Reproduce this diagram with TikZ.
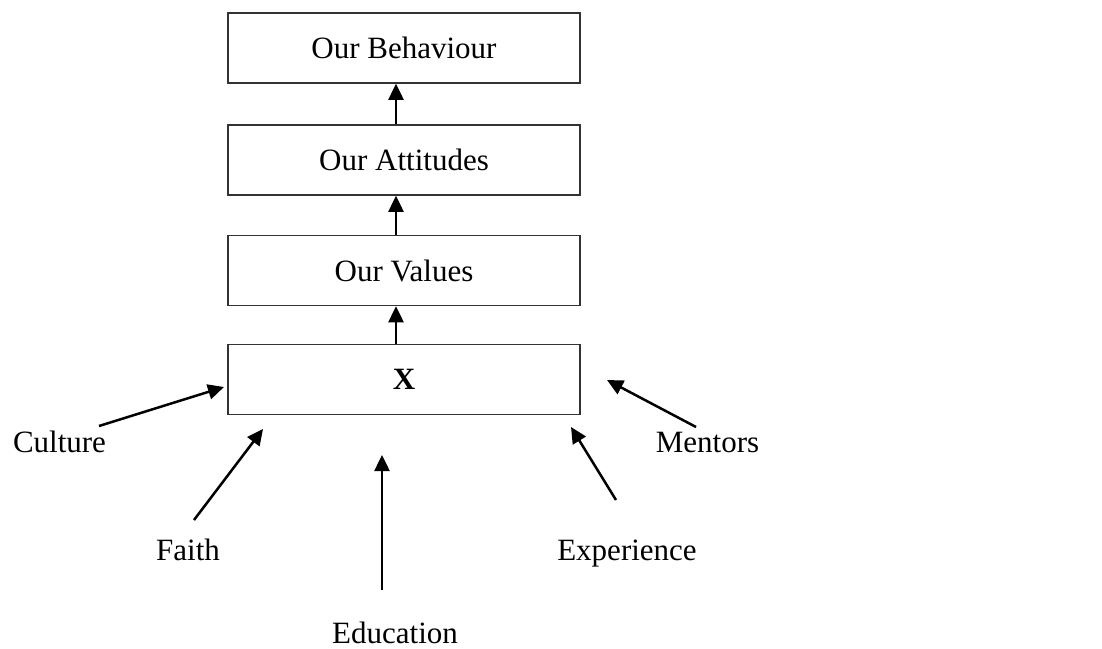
\documentclass[tikz,border=0pt]{standalone}
\usepackage{fontspec}
\setmainfont{Liberation Serif}
\usetikzlibrary{arrows.meta,positioning}

\tikzset{
  levelbox/.style={draw=black!80,line width=1.5pt,minimum width=352pt,minimum height=70pt,inner sep=0pt},
  srclabel/.style={anchor=base,inner sep=0pt},
  upflow/.style={line width=2.5pt,-{Triangle[length=16pt,width=15pt]}}
}

\begin{document}
\begin{tikzpicture}[x=1pt,y=-1pt,font=\fontsize{31}{37}\selectfont]
  \useasboundingbox (0,0) rectangle (1102,648);
  \pgfmathsetmacro\boxx{404}
  \pgfmathsetmacro\aoff{-8}   % vertical arrows sit a bit left of centre

% the four levels
  \node[levelbox] (behaviour) at (\boxx,48)    {Our Behaviour};
  \node[levelbox] (attitudes) at (\boxx,160)   {Our Attitudes};
  \node[levelbox] (values)    at (\boxx,270.5) {Our Values};
  \node[levelbox] (xbox)      at (\boxx,379.5) {\textbf{X}};

  \draw[upflow] ([xshift=\aoff]attitudes.north) -- ([xshift=\aoff]behaviour.south);
  \draw[upflow] ([xshift=\aoff]values.north)    -- ([xshift=\aoff]attitudes.south);
  \draw[upflow] ([xshift=\aoff]xbox.north)      -- ([xshift=\aoff]values.south);

% influences on X
  \node[srclabel] (culture)    at (59.5,452) {Culture};
  \node[srclabel] (faith)      at (188,560)  {Faith};
  \node[srclabel] (education)  at (395,643)  {Education};
  \node[srclabel] (experience) at (627,560)  {Experience};
  \node[srclabel] (mentors)    at (707.5,452) {Mentors};

  \coordinate (culture-t)    at (99,426);
  \coordinate (faith-t)      at (194,520);
  \coordinate (education-t)  at (382,590);
  \coordinate (experience-t) at (616,500);
  \coordinate (mentors-t)    at (696,427);

  \coordinate (culture-h)    at (224,387);
  \coordinate (faith-h)      at (263,429);
  \coordinate (education-h)  at (382,455);
  \coordinate (experience-h) at (571,427);
  \coordinate (mentors-h)    at (607,380);

  \foreach \src in {culture,faith,education,experience,mentors}
    \draw[upflow] (\src-t) -- (\src-h);
\end{tikzpicture}
\end{document}
